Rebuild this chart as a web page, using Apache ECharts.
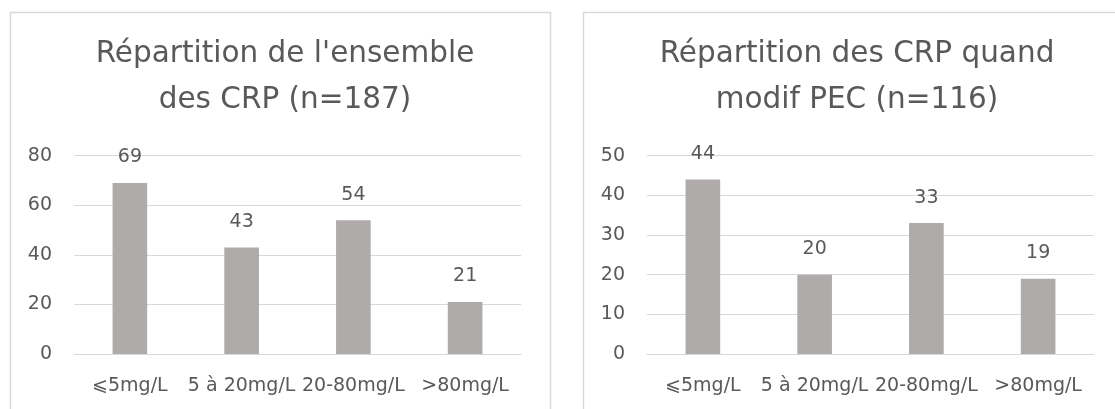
<!DOCTYPE html>
<html>
<head>
<meta charset="utf-8">
<script src="https://cdn.jsdelivr.net/npm/echarts@6/dist/echarts.min.js"></script>
<style>
html,body{margin:0;padding:0;background:#fff;}
#c{width:1115px;height:409px;}
</style>
</head>
<body>
<div id="c"></div>
<script>
const categories = ['⩽5mg/L', '5 à 20mg/L', '20-80mg/L', '>80mg/L'];
const valuesAll = [69, 43, 54, 21];
const valuesModif = [44, 20, 33, 19];
const titleAll = "Répartition de l'ensemble\ndes CRP (n=187)";
const titleModif = "Répartition des CRP quand\nmodif PEC (n=116)";
const yTicksAll = {min: 0, max: 80, interval: 20};
const yTicksModif = {min: 0, max: 50, interval: 10};

const FONT = '"DejaVu Sans", sans-serif';
const TXT = '#595959';
const GRID = '#d9d9d9';
const BAR = '#afabab';

const chart = echarts.init(document.getElementById('c'), null, {renderer: 'canvas'});

function xAxis(gi) {
  return {
    type: 'category', gridIndex: gi, data: categories,
    axisLine: {show: true, lineStyle: {color: GRID, width: 1}},
    axisTick: {show: false},
    axisLabel: {interval: 0, color: TXT, fontFamily: FONT, fontSize: 19, margin: 23}
  };
}
function yAxis(gi, t) {
  return {
    type: 'value', gridIndex: gi, min: t.min, max: t.max, interval: t.interval,
    axisLine: {show: false}, axisTick: {show: false},
    splitLine: {lineStyle: {color: GRID, width: 1}},
    axisLabel: {color: TXT, fontFamily: FONT, fontSize: 19, margin: 22}
  };
}
function series(i, vals) {
  return {
    type: 'bar', xAxisIndex: i, yAxisIndex: i, data: vals, barWidth: '31%',
    itemStyle: {color: BAR},
    label: {show: true, position: 'top', distance: 16, color: TXT, fontFamily: FONT, fontSize: 19},
    silent: true, animation: false
  };
}

chart.setOption({
  animation: false,
  title: [
    {text: titleAll, left: 280, top: 26, textAlign: 'center',
     textStyle: {color: TXT, fontFamily: FONT, fontSize: 29.5, fontWeight: 'normal', lineHeight: 46}},
    {text: titleModif, left: 852, top: 26, textAlign: 'center',
     textStyle: {color: TXT, fontFamily: FONT, fontSize: 29.5, fontWeight: 'normal', lineHeight: 46}}
  ],
  graphic: [
    {type: 'rect', shape: {x: 10.5, y: 12.5, width: 540, height: 420}, style: {fill: null, stroke: GRID, lineWidth: 1.5}, silent: true, z: -1},
    {type: 'rect', shape: {x: 583.5, y: 12.5, width: 540, height: 420}, style: {fill: null, stroke: GRID, lineWidth: 1.5}, silent: true, z: -1}
  ],
  grid: [
    {left: 74, right: 594, top: 155.7, bottom: 55},
    {left: 647, right: 21, top: 155.7, bottom: 55}
  ],
  xAxis: [xAxis(0), xAxis(1)],
  yAxis: [yAxis(0, yTicksAll), yAxis(1, yTicksModif)],
  series: [series(0, valuesAll), series(1, valuesModif)]
});
</script>
</body>
</html>
